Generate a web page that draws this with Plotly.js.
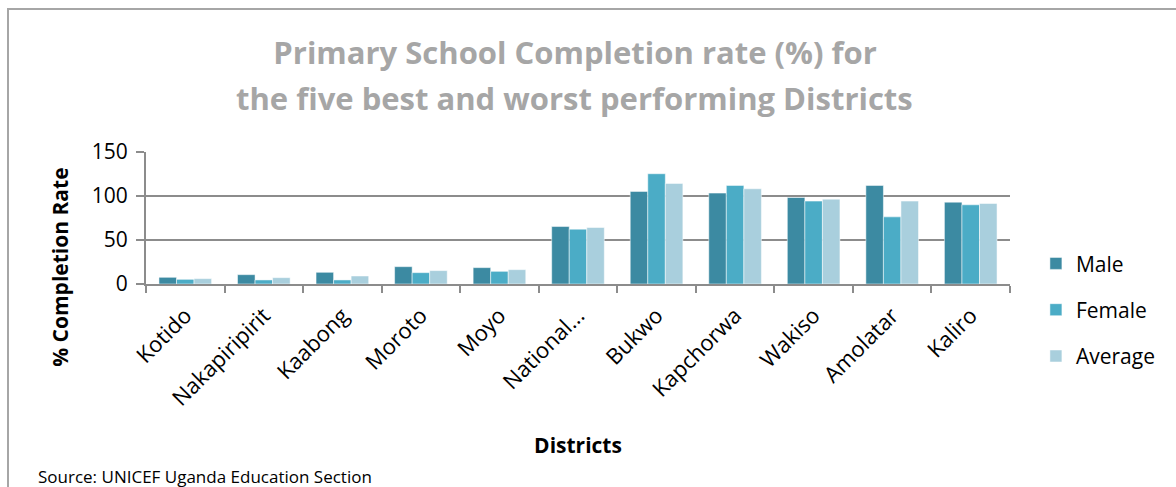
<!DOCTYPE html>
<html>
<head>
<meta charset="utf-8">
<script src="https://cdn.plot.ly/plotly-3.0.1.min.js"></script>
<style>
  html, body { margin: 0; padding: 0; background: #fff; }
  #chart { width: 1176px; height: 487px; position: absolute; left: 0; top: 0; }
  #frame { position: absolute; left: 7px; top: 8px; width: 1200px; height: 500px;
           border-left: 2px solid #a6a6a6; border-top: 2px solid #a6a6a6; pointer-events: none; }
</style>
</head>
<body>
<div id="chart"></div>
<div id="frame"></div>
<script>
const districts = ["Kotido", "Nakapiripirit", "Kaabong", "Moroto", "Moyo", "National...", "Bukwo", "Kapchorwa", "Wakiso", "Amolatar", "Kaliro"];
const male    = [7.6, 10.6, 13.3, 19.7, 18.6, 65.3, 105.2, 103.3, 98.3, 112.0, 93.0];
const female  = [5.3, 4.6, 4.6, 12.9, 14.4, 62.3, 125.3, 112.0, 94.2, 76.3, 90.0];
const average = [6.1, 7.2, 9.1, 15.2, 16.3, 64.2, 114.3, 108.2, 96.4, 94.2, 91.5];
const seriesNames = ["Male", "Female", "Average"];
const titleLine1 = "Primary School Completion rate (%) for";
const titleLine2 = "the five best and worst performing Districts";
const xTitle = "Districts";
const yTitle = "% Completion Rate";
const sourceText = "Source: UNICEF Uganda Education Section";

const FONT = "'Open Sans', sans-serif";
const colors = ["#3C8AA2", "#4BACC6", "#A9CFDD"];
const data = [male, female, average].map((vals, i) => ({
  type: "bar", x: districts, y: vals, name: seriesNames[i],
  legendgroup: "g" + i,
  marker: { color: colors[i], line: { color: "#ffffff", width: 0.5 } },
  hoverinfo: "x+y+name"
}));

const layout = {
  width: 1176, height: 487,
  margin: { l: 146, r: 166, t: 152, b: 203 },
  paper_bgcolor: "#ffffff", plot_bgcolor: "#ffffff",
  font: { family: FONT, color: "#000000", size: 20 },
  title: {
    text: titleLine1,
    font: { family: FONT, size: 31, color: "#A6A6A6", weight: "bold" },
    x: 0.489, xanchor: "center", y: 1 - 53 / 487, yanchor: "middle", xref: "container", yref: "container"
  },
  barmode: "group", bargap: 0.33, bargroupgap: 0,
  xaxis: {
    type: "category",
    tickangle: -45,
    tickfont: { family: FONT, size: 22, color: "#000" },
    showline: true, linecolor: "#8c8c8c", linewidth: 2,
    ticks: "outside", tickson: "boundaries", ticklen: 7, tickcolor: "#8c8c8c", tickwidth: 2,
    ticklabelstandoff: 8,
    showgrid: false,
    title: { text: xTitle, font: { family: FONT, size: 21, color: "#000", weight: "bold" }, standoff: 28 },
    automargin: false
  },
  yaxis: {
    range: [0, 150], tickvals: [0, 50, 100, 150],
    tickfont: { family: FONT, size: 21, color: "#000" },
    showline: true, linecolor: "#8c8c8c", linewidth: 2,
    ticks: "outside", ticklen: 8, tickcolor: "#8c8c8c", tickwidth: 2,
    ticklabelstandoff: 4,
    showgrid: true, gridcolor: "#8c8c8c", gridwidth: 2,
    zeroline: false,
    automargin: false
  },
  legend: {
    x: 1.030, xanchor: "left", y: -0.195, yanchor: "middle",
    font: { family: FONT, size: 21, color: "#000" },
    traceorder: "grouped", tracegroupgap: 16,
    itemwidth: 30, bgcolor: "rgba(0,0,0,0)", borderwidth: 0
  },
  annotations: [
    {
      text: titleLine2, xref: "paper", yref: "paper",
      x: (575 - 146) / 864.6, y: (284.3 - 98) / 132,
      xanchor: "center", yanchor: "middle", showarrow: false,
      font: { family: FONT, size: 31, color: "#A6A6A6", weight: "bold" }
    },
    {
      text: yTitle, xref: "paper", yref: "paper",
      x: (60 - 146) / 864.6, y: (284.3 - 268) / 132, textangle: -90,
      xanchor: "center", yanchor: "middle", showarrow: false,
      font: { family: FONT, size: 21, color: "#000", weight: "bold" }
    },
    {
      text: sourceText, xref: "paper", yref: "paper", x: -0.127, y: -1.46,
      xanchor: "left", yanchor: "middle", showarrow: false,
      font: { family: FONT, size: 17, color: "#000" }
    }
  ]
};

Plotly.newPlot("chart", data, layout, { displayModeBar: false, staticPlot: true });
</script>
</body>
</html>
